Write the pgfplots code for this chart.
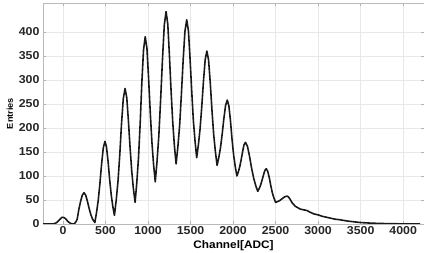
\documentclass[border=0pt]{standalone}
\usepackage{fontspec}
\setmainfont{Liberation Sans}[FakeStretch=1.08]
\usepackage{pgfplots}
\pgfplotsset{compat=1.18}
\begin{document}
\begin{tikzpicture}
\path[use as bounding box] (0,0) rectangle (424bp,253bp);
\begin{axis}[
  at={(43bp,29bp)}, anchor=south west,
  scale only axis, width=381bp, height=221bp,
  xmin=-235, xmax=4245, ymin=0, ymax=460,
  xtick={0,500,...,4000}, ytick={0,50,...,400},
  /pgf/number format/assume math mode=true,
  /pgf/number format/1000 sep={},
  tick label style={font=\bfseries\fontsize{11.5}{13}\selectfont, text=black!85},
  xticklabel style={yshift=1bp},
  grid=major, major grid style={gray!18, line width=0.5pt},
  axis line style={gray!55, line width=0.6pt},
  tick style={gray!60, line width=0.5pt},
  tick align=inside, major tick length=3bp,
  xlabel={\bfseries Channel[ADC]},
  xlabel style={font=\fontsize{11}{12}\selectfont, at={(axis description cs:0.5,0)}, anchor=north, yshift=-13bp},
  ylabel={\bfseries Entries},
  ylabel style={font=\fontsize{8.5}{10}\selectfont, yshift=-1bp},
  clip=true,
]
\addplot[black!90, line width=1.6pt, line join=round] coordinates {
(-235,0) (-150,0) (-110,0.5) (-90,1.5) (-70,3.5) (-50,7) (-30,11) (-15,13.5) (0,14)
(15,13) (30,11) (50,7) (70,3.5) (90,1.2) (110,0.3) (130,0)
(150,4) (167,10) (187,31) (207,47) (227,60) (247,65)
(267,60) (287,47.6) (307,32.8) (327,19.7) (347,10.4) (375,3)
(394,23.3) (414,48.6) (434,84) (454,124.7) (474,158.5) (494,172)
(512,159.7) (531,128.9) (549,92) (568,59.6) (586,36.5) (605,18)
(626,49.7) (647,89.3) (668,144.7) (688,208) (709,260.9) (730,282)
(750,263) (769,215.6) (789,158.8) (809,109) (828,73.4) (848,45)
(868,86.4) (888,138) (908,210.6) (927,293.4) (947,362.4) (967,390)
(987,365.8) (1006,305.4) (1026,233) (1046,169.5) (1065,124.2) (1085,88)
(1106,130.5) (1127,183.6) (1148,258) (1170,342.9) (1191,413.7) (1212,442)
(1232,416.6) (1251,353.2) (1271,277) (1291,210.6) (1310,163) (1330,125)
(1351,161) (1372,206) (1392,269) (1413,341) (1434,401) (1455,425)
(1475,402) (1494,344.6) (1514,275.8) (1533,215.5) (1553,172.4) (1572,138)
(1592,164.6) (1612,198) (1632,244.6) (1652,297.8) (1672,342.2) (1692,360)
(1712,341) (1732,293.4) (1752,236.2) (1772,186.3) (1792,150.6) (1812,122)
(1832,138.3) (1852,158.7) (1872,187.3) (1892,219.9) (1912,247) (1932,258)
(1951,245.4) (1970,213.8) (1988,175.8) (2007,142.7) (2026,119) (2045,100)
(2062,108.4) (2078,118.9) (2095,133.6) (2112,150.4) (2128,164.4) (2145,170)
(2169,161.8) (2193,141.4) (2217,117) (2242,95.5) (2266,80.2) (2290,68)
(2307,73.6) (2323,80.7) (2340,90.6) (2357,101.8) (2373,111.2) (2390,115)
(2408,109.4) (2427,95.4) (2445,78.6) (2463,63.9) (2482,53.4) (2500,45)
(2522,46.6) (2545,48.5) (2567,51.2) (2590,54.4) (2612,57) (2635,58)
(2651,56.4) (2667,52.4) (2683,47.6) (2698,43.4) (2714,40.4) (2730,37)
(2760,34) (2790,31) (2830,29.5) (2870,28) (2900,25) (2950,21) (3000,19)
(3050,16) (3100,14) (3150,12) (3200,10) (3250,9) (3300,7.5) (3350,6)
(3400,5) (3450,4) (3500,3) (3600,2) (3700,1.3) (3800,0.8) (3900,0.5)
(4000,0.3) (4100,0.2) (4200,0)
};
\end{axis}
\end{tikzpicture}
\end{document}
